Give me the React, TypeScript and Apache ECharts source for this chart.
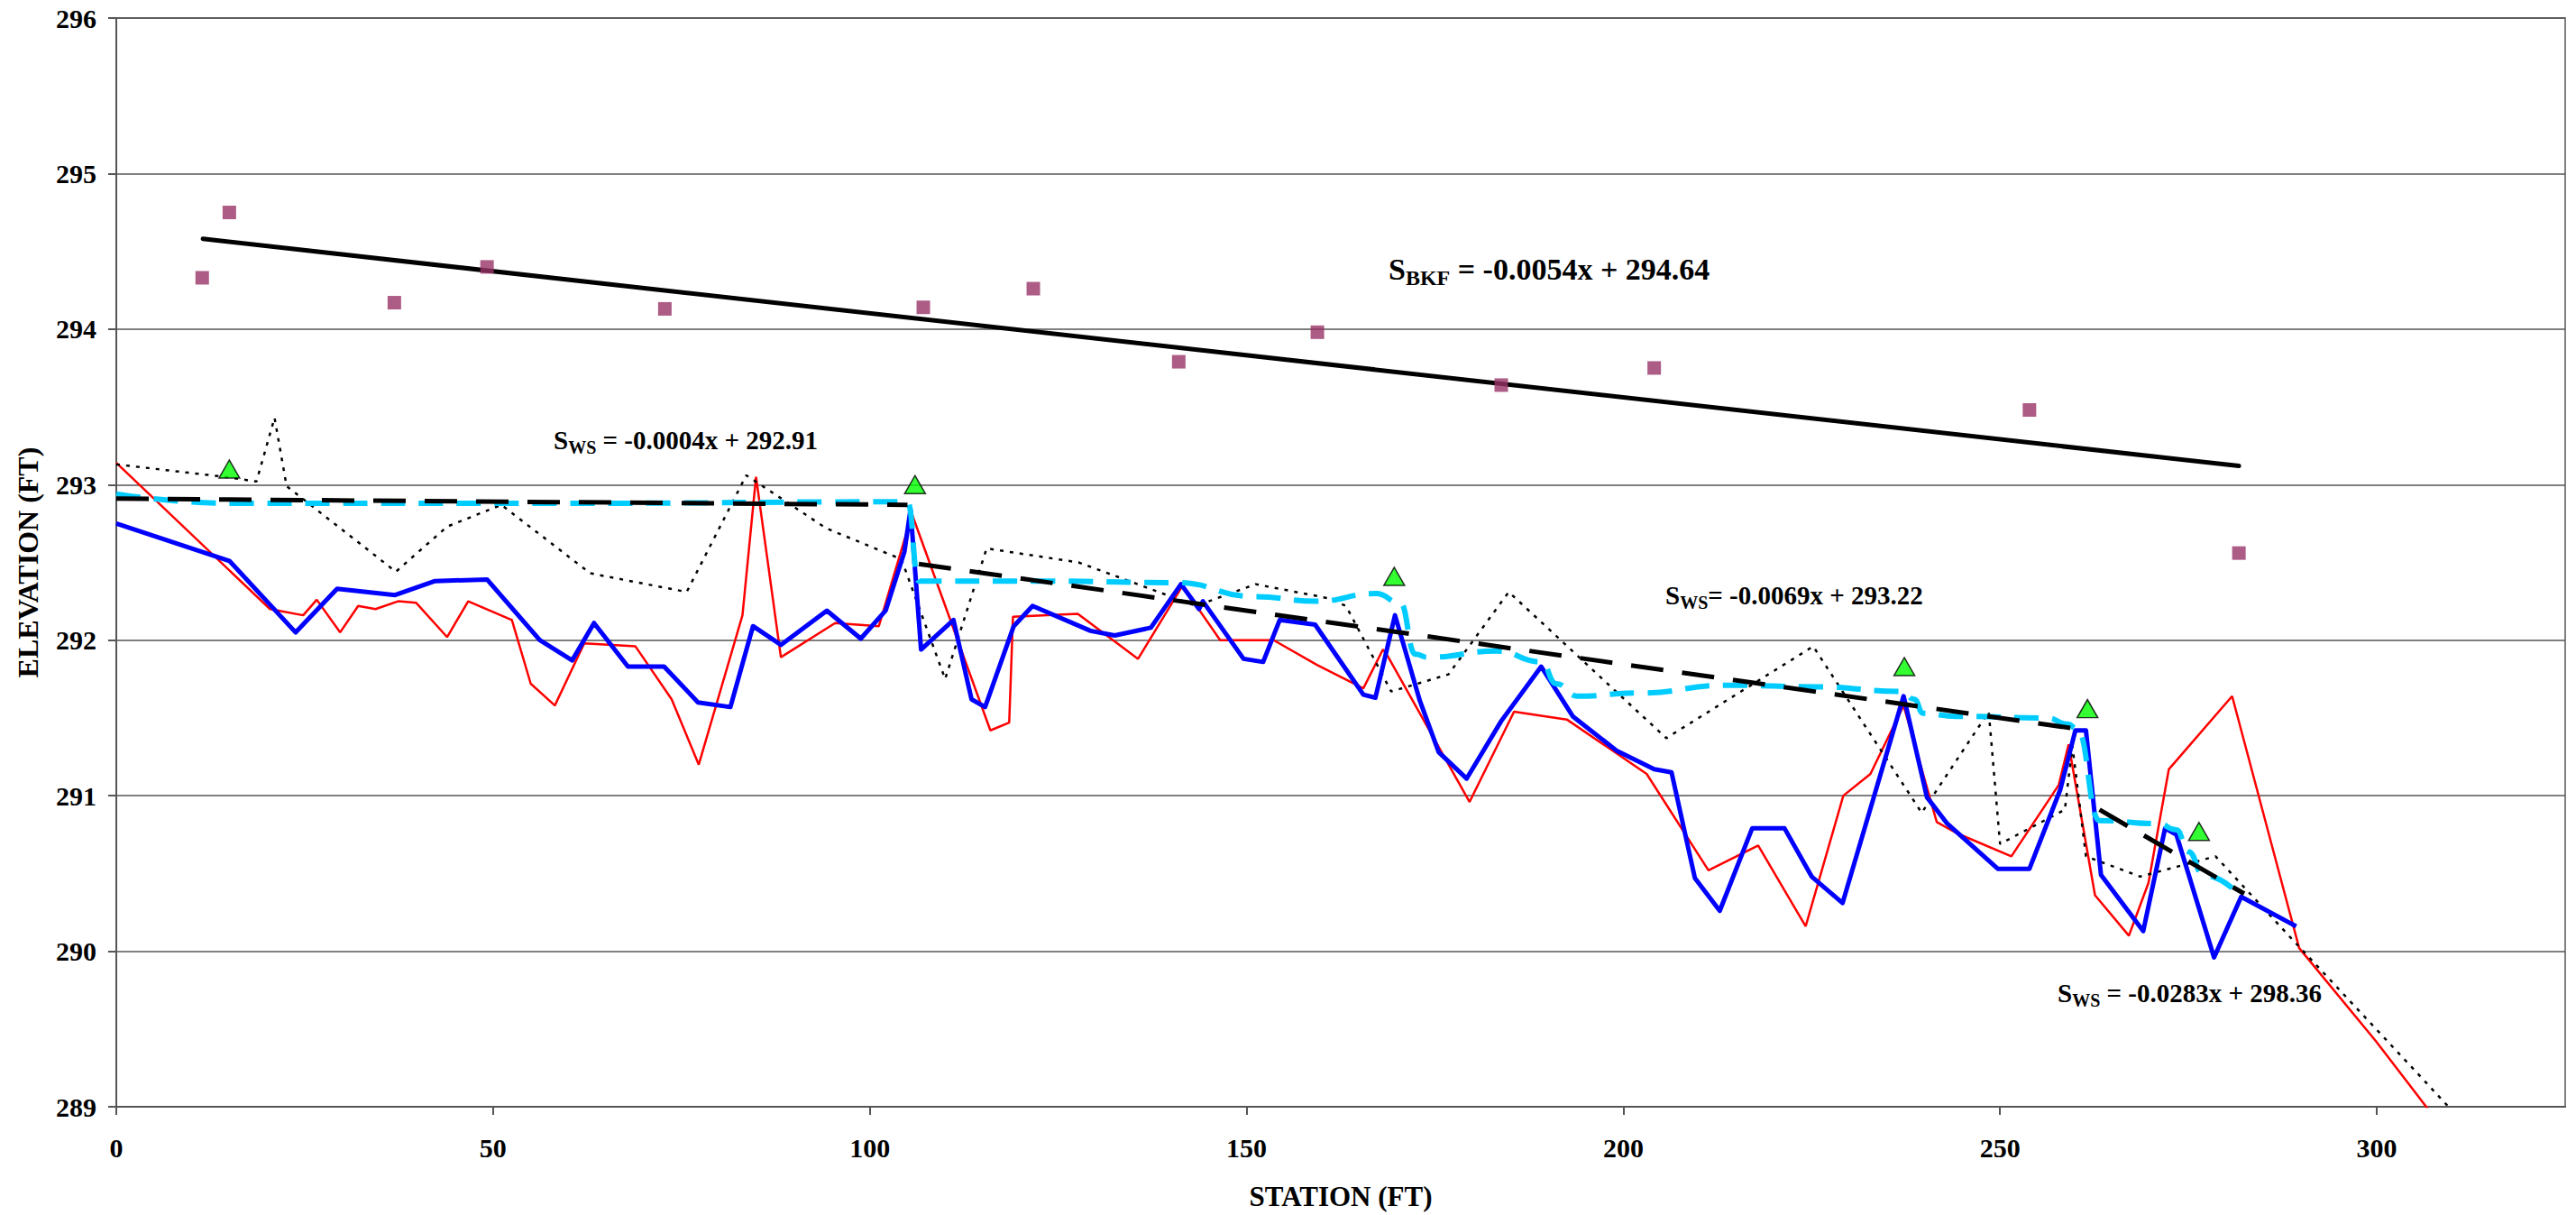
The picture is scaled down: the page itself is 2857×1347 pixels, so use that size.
import React, { useEffect, useRef } from "react";
import * as echarts from "echarts";

// ---------- data (station ft, elevation ft) ----------
const xTickStep = 50;
const xMax = 325;
const yMin = 289;
const yMax = 296;

const bedProfile: [number, number][] = [
  [0, 293.14], [20.4, 292.2], [24.8, 292.16], [26.6, 292.26], [29.7, 292.05], [32.1, 292.22],
  [34.4, 292.2], [37.4, 292.25], [39.8, 292.24], [43.9, 292.02], [46.7, 292.25], [52.5, 292.13],
  [55.0, 291.72], [58.2, 291.58], [62.1, 291.98], [68.9, 291.96], [73.7, 291.62], [77.3, 291.2],
  [83.1, 292.16], [84.9, 293.05], [88.2, 291.89], [95.4, 292.11], [101.2, 292.09], [105.6, 292.81],
  [116.0, 291.42], [118.5, 291.47], [119.0, 292.15], [127.6, 292.17], [135.6, 291.88], [141.5, 292.35],
  [146.5, 292.0], [153.6, 292.0], [159.4, 291.84], [165.5, 291.69], [168.1, 291.94], [168.7, 291.9],
  [179.6, 290.96], [185.5, 291.54], [192.5, 291.49], [203.1, 291.14], [211.3, 290.52], [217.9, 290.68],
  [224.2, 290.16], [229.2, 291.0], [232.8, 291.14], [237.2, 291.58], [241.6, 290.83], [244.2, 290.76],
  [251.5, 290.61], [257.8, 291.07], [259.1, 291.33], [262.6, 290.36], [267.1, 290.1], [269.7, 290.44],
  [272.4, 291.17], [280.8, 291.64], [289.7, 290.02], [299.9, 289.42], [305.3, 289.08], [310.0, 288.78],
];

const thalwegProfile: [number, number][] = [
  [0, 292.75], [15.0, 292.51], [23.8, 292.05], [29.3, 292.33], [37.0, 292.29], [42.3, 292.38],
  [49.2, 292.39], [56.2, 292.0], [60.5, 291.87], [63.4, 292.11], [67.9, 291.83], [72.7, 291.83],
  [77.2, 291.6], [81.5, 291.57], [84.5, 292.09], [88.2, 291.97], [94.3, 292.19], [98.8, 292.01],
  [102.1, 292.19], [104.6, 292.57], [105.4, 292.84], [106.8, 291.94], [111.1, 292.13], [113.5, 291.62],
  [115.3, 291.57], [119.1, 292.09], [121.6, 292.22], [129.3, 292.06], [132.5, 292.03], [137.3, 292.08],
  [141.3, 292.36], [143.7, 292.2], [144.2, 292.25], [149.6, 291.88], [152.2, 291.86], [154.4, 292.13],
  [159.1, 292.1], [165.5, 291.65], [167.1, 291.63], [169.7, 292.16], [173.0, 291.61], [175.5, 291.28],
  [179.2, 291.11], [183.8, 291.48], [189.1, 291.83], [193.3, 291.51], [199.1, 291.29], [204.1, 291.17],
  [206.4, 291.15], [209.5, 290.47], [212.8, 290.26], [217.1, 290.79], [221.4, 290.79], [225.0, 290.48],
  [229.1, 290.31], [237.2, 291.64], [240.3, 290.99], [243.0, 290.82], [249.7, 290.53], [253.9, 290.53],
  [258.0, 291.04], [260.0, 291.42], [261.4, 291.42], [263.4, 290.49], [269.0, 290.13], [271.9, 290.79],
  [273.4, 290.75], [278.4, 289.96], [282.0, 290.35], [289.3, 290.16],
];

const priorProfile: [number, number][] = [
  [0, 293.13], [14.4, 293.05], [18.6, 293.02], [21.0, 293.43], [22.6, 292.99], [37.1, 292.44],
  [43.9, 292.73], [51.1, 292.87], [62.9, 292.43], [75.7, 292.31], [83.6, 293.06], [94.2, 292.72],
  [104.2, 292.52], [110.0, 291.75], [115.5, 292.59], [127.7, 292.5], [136.1, 292.35], [143.3, 292.22],
  [151.2, 292.36], [160.8, 292.27], [163.2, 292.22], [169.2, 291.67], [176.8, 291.78], [184.8, 292.31],
  [205.7, 291.37], [225.2, 291.96], [239.6, 290.89], [248.5, 291.54], [250.0, 290.69], [258.6, 290.91],
  [259.6, 291.32], [261.4, 290.61], [268.6, 290.48], [278.6, 290.61], [288.9, 290.07], [305.3, 289.22],
  [312.0, 288.87],
];

const waterSurface: [number, number][] = [
  [0, 292.94], [15.2, 292.88], [60.0, 292.88], [105.0, 292.89], [106.5, 292.38], [121.9, 292.38],
  [140.5, 292.37], [151.2, 292.28], [159.2, 292.25], [167.2, 292.3], [170.4, 292.24], [172.4, 291.91],
  [174.0, 291.89], [183.2, 291.93], [189.1, 291.86], [191.1, 291.72], [193.9, 291.64], [201.9, 291.66],
  [213.9, 291.71], [225.8, 291.7], [237.0, 291.67], [238.6, 291.62], [239.8, 291.53], [244.2, 291.51],
  [256.2, 291.5], [259.0, 291.46], [260.2, 291.43], [263.2, 290.84], [271.0, 290.82], [273.4, 290.78],
  [275.0, 290.64], [277.0, 290.49], [281.4, 290.38],
];

const wsTrend1: [number, number][] = [[0, 292.91], [105.0, 292.87]];
const wsTrend2: [number, number][] = [[106.5, 292.49], [261.6, 291.42]];
const wsTrend3: [number, number][] = [[263.2, 290.91], [282.4, 290.37]];

const bankfullPoints: [number, number][] = [
  [11.4, 294.33], [15.0, 294.75], [36.9, 294.17], [49.2, 294.4], [72.8, 294.13], [107.1, 294.14],
  [121.7, 294.26], [141.0, 293.79], [159.4, 293.98], [183.8, 293.64], [204.1, 293.75], [253.9, 293.48],
  [281.7, 292.56],
];
const bankfullTrend: [number, number][] = [[11.5, 294.58], [281.7, 293.12]];

const wsPoints: [number, number][] = [
  [15.0, 293.1], [106.0, 293.0], [169.6, 292.41], [237.3, 291.83], [261.6, 291.56], [276.4, 290.77],
];

const eqBkf = ["BKF", " = -0.0054x + 294.64"];
const eqWs1 = ["WS", " = -0.0004x + 292.91"];
const eqWs2 = ["WS", "= -0.0069x + 293.22"];
const eqWs3 = ["WS", " = -0.0283x + 298.36"];

const FONT = "'Liberation Serif', 'Times New Roman', serif";

function eqText(parts: string[], x: number, y: number, size: number) {
  const sub = Math.round(size * 0.7);
  return {
    type: "text",
    x,
    y,
    z: 100,
    style: {
      text: `{s|S}{sub|${parts[0]}}{s|${parts[1]}}`,
      align: "left",
      verticalAlign: "middle",
      rich: {
        s: {
          fontFamily: FONT,
          fontWeight: "bold",
          fontSize: size,
          lineHeight: size + 2,
          fill: "#000",
        },
        sub: {
          fontFamily: FONT,
          fontWeight: "bold",
          fontSize: sub,
          lineHeight: sub,
          padding: [Math.round(size * 0.55), 0, 0, 0],
          fill: "#000",
        },
      },
    },
  };
}

export default function App() {
  const ref = useRef<HTMLDivElement>(null);

  useEffect(() => {
    if (!ref.current) return;
    const chart = echarts.init(ref.current, null, { renderer: "svg" });
    const labelStyle = { fontFamily: FONT, fontWeight: "bold", fontSize: 30, color: "#000" };
    const dashedBlack = { color: "#000", width: 5, type: [36, 21] as number[] };

    chart.setOption({
      animation: false,
      backgroundColor: "#fff",
      grid: {
        left: 129,
        right: 12,
        top: 20,
        bottom: 119,
        show: true,
        borderColor: "#808080",
        borderWidth: 2,
        backgroundColor: "transparent",
      },
      xAxis: {
        type: "value",
        min: 0,
        max: xMax,
        interval: xTickStep,
        name: "STATION (FT)",
        nameLocation: "middle",
        nameGap: 84,
        nameTextStyle: { ...labelStyle, fontSize: 31 },
        axisLine: { show: true, onZero: false, lineStyle: { color: "#555", width: 2 } },
        axisTick: { show: true, inside: false, length: 9, lineStyle: { color: "#555", width: 2 } },
        axisLabel: {
          ...labelStyle,
          margin: 30,
          showMaxLabel: false,
          formatter: (v: number) => (v % xTickStep === 0 ? String(v) : ""),
        },
        splitLine: { show: false },
      },
      yAxis: {
        type: "value",
        min: yMin,
        max: yMax,
        interval: 1,
        name: "ELEVATION (FT)",
        nameLocation: "middle",
        nameGap: 82,
        nameRotate: 90,
        nameTextStyle: { ...labelStyle, fontSize: 32 },
        axisLine: { show: true, onZero: false, lineStyle: { color: "#555", width: 2 } },
        axisTick: { show: true, inside: false, length: 9, lineStyle: { color: "#555", width: 2 } },
        axisLabel: { ...labelStyle, margin: 22 },
        splitLine: { show: true, lineStyle: { color: "#555", width: 1.5 } },
      },
      series: [
        {
          name: "Bed",
          type: "line",
          data: bedProfile,
          symbol: "none",
          lineStyle: { color: "#FF0000", width: 2.5 },
          z: 2,
        },
        {
          name: "Prior",
          type: "line",
          data: priorProfile,
          symbol: "none",
          lineStyle: { color: "#000", width: 2.5, type: [4, 7] },
          z: 2,
        },
        {
          name: "Thalweg",
          type: "line",
          data: thalwegProfile,
          symbol: "none",
          lineStyle: { color: "#0000FF", width: 5, join: "round" },
          z: 3,
        },
        {
          name: "Water surface",
          type: "line",
          data: waterSurface,
          symbol: "none",
          smooth: 0.5,
          smoothMonotone: "x",
          lineStyle: { color: "#00CCFF", width: 6, type: [27, 15] },
          z: 4,
        },
        { name: "WS trend 1", type: "line", data: wsTrend1, symbol: "none", lineStyle: dashedBlack, z: 5 },
        { name: "WS trend 2", type: "line", data: wsTrend2, symbol: "none", lineStyle: dashedBlack, z: 5 },
        { name: "WS trend 3", type: "line", data: wsTrend3, symbol: "none", lineStyle: dashedBlack, z: 5 },
        {
          name: "BKF trend",
          type: "line",
          data: bankfullTrend,
          symbol: "none",
          lineStyle: { color: "#000", width: 5, cap: "round" },
          z: 5,
        },
        {
          name: "Bankfull",
          type: "scatter",
          data: bankfullPoints,
          symbol: "rect",
          symbolSize: 15,
          itemStyle: { color: "#993366" },
          z: 6,
        },
        {
          name: "WS points",
          type: "scatter",
          data: wsPoints,
          symbol: "triangle",
          symbolSize: [23, 20],
          itemStyle: { color: "#00FF00", borderColor: "#000", borderWidth: 1.5 },
          z: 7,
        },
      ],
      graphic: [
        eqText(eqBkf, 1540, 298, 34),
        eqText(eqWs1, 614, 488, 29),
        eqText(eqWs2, 1847, 660, 29),
        eqText(eqWs3, 2282, 1101, 29),
      ],
    });

    return () => chart.dispose();
  }, []);

  return (
    <div
      ref={ref}
      style={{ position: "fixed", left: 0, top: 0, width: 2857, height: 1347, background: "#fff" }}
    />
  );
}
